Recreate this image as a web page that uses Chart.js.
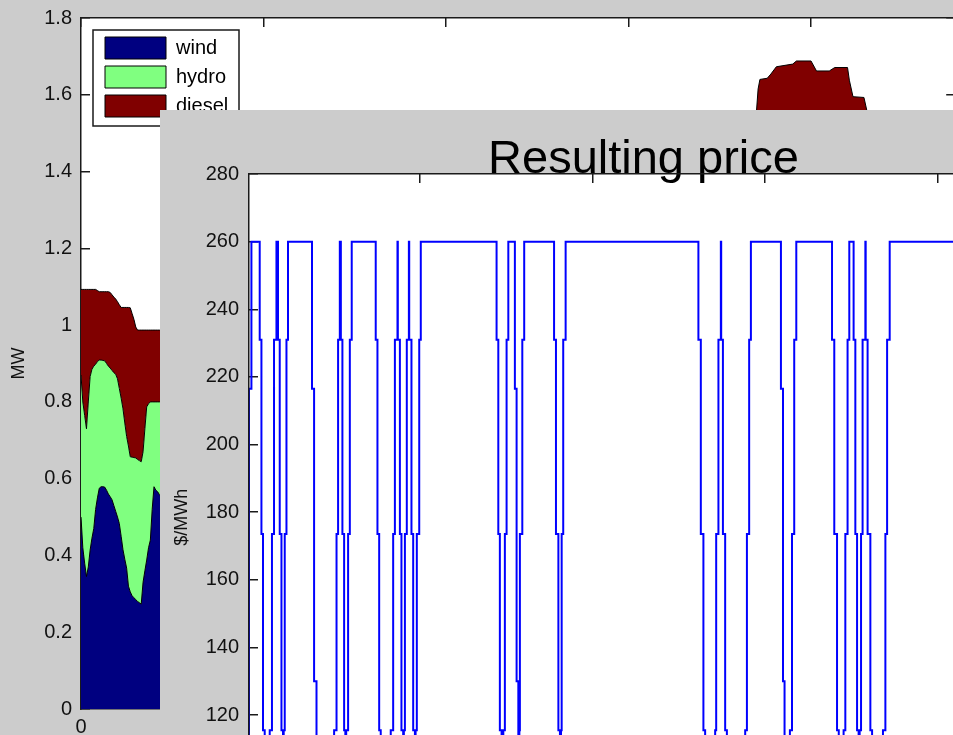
<!DOCTYPE html>
<html>
<head>
<meta charset="utf-8">
<title>Generation mix and resulting price</title>
<script src="https://cdn.jsdelivr.net/npm/chart.js@4.4.1/dist/chart.umd.min.js"></script>
<style>
  html, body { margin:0; padding:0; width:953px; height:735px; overflow:hidden; background:#cccccc; }
  #backWrap { position:absolute; left:0; top:0; width:1000px; height:760px; }
  #frontWrap { position:absolute; left:160px; top:110px; width:793px; height:625px; overflow:hidden; background:#cccccc; }
  canvas { display:block; }
</style>
</head>
<body>
<div id="backWrap"><canvas id="back" width="1000" height="760"></canvas></div>
<div id="frontWrap"><canvas id="front" width="967" height="790"></canvas></div>
<script>
// ---------- Back figure: generation mix (MW) ----------
const genHours = [0,1,2,3,4,5,6,7,8,9,10,11,12,13,14,15,16,17,18,19,20,21,22,23,24,25,26,27,28,29,30,31,32,33,34,35,36,37,38,39,40,41,42,43,44,
  50,60,75,90,110,130,150,170,190,210,230,250,270,290,310,330,350,365,
  369,370,371,372,376,378,381,390,392,400,403,410,413,420,421,423,429,431,433,
  445,460,479];
const windMW = [0.50,0.42,0.38,0.345,0.37,0.414,0.445,0.47,0.52,0.55,0.575,0.579,0.579,0.578,0.57,0.56,0.553,0.545,0.53,0.515,0.50,0.483,0.45,0.415,0.39,0.367,0.32,0.305,0.295,0.29,0.285,0.28,0.277,0.273,0.33,0.36,0.388,0.42,0.44,0.52,0.579,0.57,0.566,0.558,0.553,
  0.50,0.40,0.30,0.45,0.55,0.35,0.25,0.40,0.55,0.35,0.30,0.45,0.30,0.25,0.35,0.30,0.25,0.25,
  0.25,0.25,0.25,0.25,0.25,0.25,0.25,0.25,0.25,0.25,0.25,0.25,0.25,0.25,0.25,0.25,0.25,0.25,0.25,
  0.30,0.35,0.40];
const hydroMW = [0.37,0.38,0.385,0.385,0.43,0.452,0.44,0.423,0.378,0.355,0.334,0.33,0.329,0.329,0.33,0.333,0.335,0.337,0.346,0.357,0.36,0.352,0.36,0.367,0.355,0.343,0.365,0.352,0.361,0.365,0.369,0.37,0.37,0.371,0.34,0.37,0.399,0.375,0.36,0.28,0.221,0.23,0.234,0.242,0.247,
  0.28,0.35,0.40,0.35,0.30,0.40,0.45,0.40,0.30,0.40,0.45,0.35,0.40,0.45,0.40,0.40,0.40,0.40,
  0.40,0.40,0.40,0.40,0.40,0.40,0.40,0.40,0.40,0.40,0.40,0.40,0.40,0.40,0.40,0.40,0.40,0.40,0.40,
  0.40,0.40,0.35];
const dieselMW = [0.223,0.293,0.328,0.363,0.293,0.227,0.208,0.2,0.195,0.185,0.178,0.178,0.179,0.18,0.187,0.194,0.197,0.197,0.197,0.196,0.201,0.218,0.236,0.264,0.301,0.336,0.361,0.388,0.374,0.36,0.341,0.337,0.34,0.343,0.317,0.257,0.2,0.192,0.187,0.187,0.187,0.187,0.187,0.187,0.187,
  0.20,0.25,0.35,0.25,0.20,0.40,0.50,0.35,0.25,0.40,0.45,0.35,0.50,0.60,0.55,0.65,0.75,0.80,
  0.85,0.90,0.965,0.99,0.993,1.004,1.023,1.03,1.038,1.038,1.012,1.012,1.021,1.021,0.988,0.945,0.943,0.90,0.80,
  0.60,0.50,0.45];
const genLabels = ['wind','hydro','diesel'];
const mwTicks = [0,0.2,0.4,0.6,0.8,1,1.2,1.4,1.6,1.8];

// ---------- Front figure: resulting price ($/MWh), stairs ----------
const priceHour = [0,1,2.4,7.2,8.2,9.1,10.1,13.0,14.3,15.5,16.9,17.8,18.8,19.8,20.7,21.1,21.7,22.7,23.6,
  37.5,38.7,40.1,50.3,51.7,52.6,53.6,54.2,55.1,56.1,56.8,57.3,58.4,59.4,60.5,
  74.4,75.4,76.4,77.3,83.1,84.5,85.5,87.0,87.2,88.4,89.3,90.3,90.7,91.3,92.4,93.6,93.8,95.1,96.1,97.1,97.5,98.2,99.6,100.5,
  144.4,145.4,146.3,147.3,148.3,149.2,150.2,151.2,155.0,156.0,157.0,157.6,157.9,159.3,160.4,
  177.7,178.8,180.2,181.1,181.7,182.1,183.0,184.4,
  261.3,262.7,264.2,265.2,271.0,271.6,272.9,274.3,274.5,275.5,276.8,277.8,288.4,289.4,290.7,291.7,
  309.1,310.3,311.2,314.3,315.5,316.8,318.0,
  338.7,340.0,341.6,342.6,345.4,346.4,347.7,348.7,351.2,352.2,353.2,354.1,354.7,355.5,356.4,358.0,358.2,359.3,360.9,361.9,
  368.2,369.6,370.6,372.1,458];
const priceValue = [100,216.5,260,231,173.5,115.5,100,115.5,173.5,231,260,231,173.5,115.5,100,115.5,173.5,231,260,
  216.5,130,100,115.5,173.5,231,260,231,173.5,115.5,100,115.5,173.5,231,260,
  231,173.5,115.5,100,115.5,173.5,231,260,231,173.5,115.5,100,115.5,173.5,231,260,231,173.5,115.5,100,115.5,173.5,231,260,
  231,173.5,115.5,100,115.5,173.5,231,260,216.5,130,100,115.5,173.5,231,260,
  231,173.5,115.5,100,115.5,173.5,231,260,
  231,173.5,115.5,100,115.5,173.5,231,260,231,173.5,115.5,100,115.5,173.5,231,260,
  216.5,130,100,115.5,173.5,231,260,
  231,173.5,115.5,100,115.5,173.5,231,260,231,173.5,115.5,100,115.5,173.5,231,260,231,173.5,115.5,100,
  115.5,173.5,231,260,260];

// ---------- shared styling ----------
Chart.defaults.font.family = "'Liberation Sans', Arial, Helvetica, sans-serif";
Chart.defaults.color = '#111';
const INK = '#1a1a1a';
const tickGrid = { drawOnChartArea:false, drawTicks:true, tickLength:-9, color:INK, lineWidth:1.5 };
const axisBorder = { display:true, color:INK, width:1.5 };
const noPad = (s) => { s.paddingTop = 0; s.paddingBottom = 0; };

const whiteArea = {
  id:'whiteArea',
  beforeDraw(c){ const a=c.chartArea, ctx=c.ctx; ctx.save(); ctx.fillStyle='#ffffff'; ctx.fillRect(a.left,a.top,a.right-a.left,a.bottom-a.top); ctx.restore(); }
};
const legendPlace = {
  id:'legendPlace',
  afterLayout(c){
    const lg=c.legend, a=c.chartArea; if(!lg) return;
    const w=lg.width, h=lg.height;
    lg.left=a.left+17; lg.top=a.top+12; lg.right=lg.left+w; lg.bottom=lg.top+h;
  },
  afterDraw(c){
    const lg=c.legend, ctx=c.ctx; if(!lg) return;
    ctx.save(); ctx.strokeStyle=INK; ctx.lineWidth=1.5;
    ctx.strokeRect(lg.left-5, lg.top, 146, 96);
    ctx.restore();
  }
};

const toXY = (xs, ys) => xs.map((x,i)=>({x:x, y:ys[i]}));

// ---------- back chart ----------
new Chart(document.getElementById('back'), {
  type:'line',
  data:{ datasets:[
    { label:genLabels[0], data:toXY(genHours,windMW), backgroundColor:'#000080', borderColor:'#000', borderWidth:1, fill:'origin', pointRadius:0, tension:0 },
    { label:genLabels[1], data:toXY(genHours,hydroMW), backgroundColor:'#80ff80', borderColor:'#000', borderWidth:1, fill:'-1', pointRadius:0, tension:0 },
    { label:genLabels[2], data:toXY(genHours,dieselMW), backgroundColor:'#800000', borderColor:'#000', borderWidth:1, fill:'-1', pointRadius:0, tension:0 }
  ]},
  options:{
    responsive:false, animation:false, events:[],
    layout:{ padding:{ top:18, left:0, right:0, bottom:0 } },
    plugins:{
      legend:{ position:'chartArea', align:'start', labels:{ boxWidth:61, boxHeight:22, padding:7, font:{size:20}, color:'#000' } },
      tooltip:{ enabled:false }
    },
    scales:{
      x:{ type:'linear', position:'bottom', min:0, max:479,
          ticks:{ stepSize:100, includeBounds:false, padding:15, font:{size:20}, color:'#111', maxRotation:0 },
          grid:tickGrid, border:axisBorder, afterFit(s){ s.height=51; } },
      xTop:{ type:'linear', position:'top', min:0, max:479,
          ticks:{ display:false, stepSize:100, includeBounds:false },
          grid:tickGrid, border:axisBorder, afterFit(s){ s.height=0; } },
      y:{ stacked:true, position:'left', min:mwTicks[0], max:mwTicks[mwTicks.length-1],
          ticks:{ stepSize:0.2, padding:18, font:{size:20}, color:'#111', callback:(v)=>String(Math.round(v*10)/10) },
          title:{ display:true, text:'MW', font:{size:18}, color:'#111', padding:{top:8.7, bottom:0} },
          grid:tickGrid, border:axisBorder, afterFit(s){ s.width=81; noPad(s); } },
      yRight:{ position:'right', min:mwTicks[0], max:mwTicks[mwTicks.length-1],
          ticks:{ display:false, stepSize:0.2 },
          grid:tickGrid, border:axisBorder, afterFit(s){ s.width=44.8; noPad(s); } }
    }
  },
  plugins:[whiteArea, legendPlace]
});

// ---------- front chart ----------
new Chart(document.getElementById('front'), {
  type:'line',
  data:{ datasets:[
    { label:'price', data:toXY(priceHour,priceValue), borderColor:'#0000ff', borderWidth:2, stepped:true, pointRadius:0, fill:false }
  ]},
  options:{
    responsive:false, animation:false, events:[],
    layout:{ padding:{ top:0, left:0, right:0, bottom:39.6 } },
    plugins:{
      legend:{ display:false }, tooltip:{ enabled:false },
      title:{ display:true, text:'Resulting price', color:'#000', font:{ size:47, weight:'normal', lineHeight:1 }, padding:{ top:26.5, bottom:-9.5 } }
    },
    scales:{
      x:{ type:'linear', position:'top', min:1, max:458,
          ticks:{ display:false, stepSize:100, includeBounds:false },
          grid:tickGrid, border:axisBorder, afterFit(s){ s.height=0; } },
      y:{ position:'left', min:77, max:280,
          ticks:{ stepSize:20, includeBounds:false, padding:19, font:{size:20}, color:'#111' },
          title:{ display:true, text:'$/MWh', font:{size:18}, color:'#111', padding:{top:11.7, bottom:0} },
          grid:tickGrid, border:Object.assign({z:1}, axisBorder), afterFit(s){ s.width=89; noPad(s); } },
      yRight:{ position:'right', min:77, max:280,
          ticks:{ display:false, stepSize:20 },
          grid:{ display:false }, border:{ display:false }, afterFit(s){ s.width=89; noPad(s); } }
    }
  },
  plugins:[whiteArea]
});
</script>
</body>
</html>
